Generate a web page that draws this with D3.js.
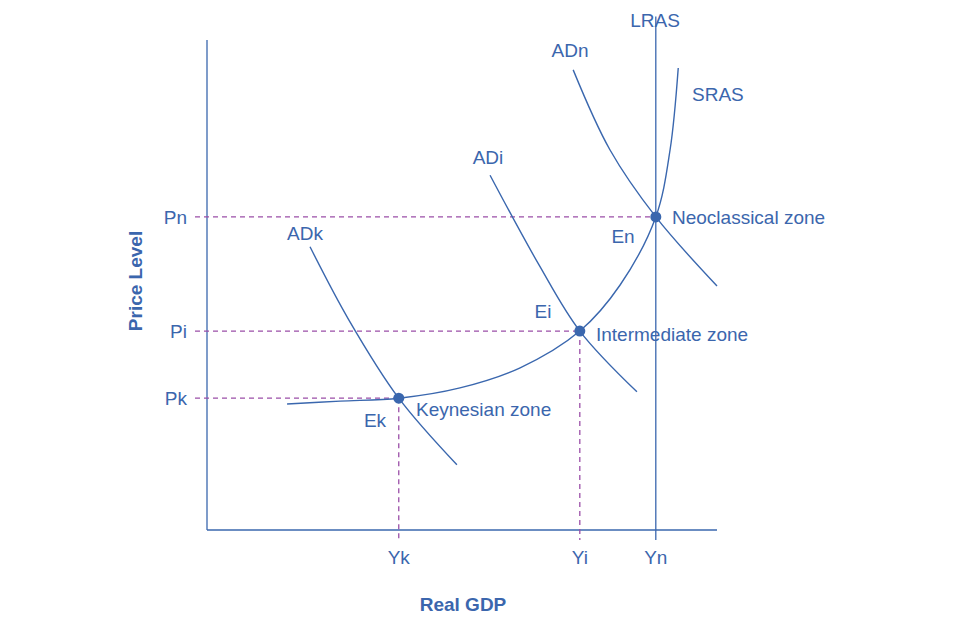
<!DOCTYPE html>
<html><head><meta charset="utf-8">
<script src="https://cdn.jsdelivr.net/npm/d3@7"></script>
<style>body{margin:0;background:#fff}text{font-family:Arial,"Liberation Sans",sans-serif;fill:#3b66ad}</style>
</head><body><svg id="c" width="976" height="628"></svg>
<script>
// curve points, in a 0..100 data space
const sras = [[15.7,25.7],[26.1,26.3],[37.6,26.9],[49.6,29.0],[61.4,33.1],[73.1,40.6],[81.0,50.0],[88.0,63.9],[90.8,77.6],[92.4,94.3]];
const adk = [[20.2,57.8],[27.8,42.9],[37.6,26.9],[49.0,13.3]];
const adi = [[55.5,72.4],[65.1,54.1],[73.1,40.6],[84.3,28.2]];
const adn = [[71.8,93.9],[79.0,77.6],[88.0,63.9],[100,49.8]];
const lrasX = 88.0;
const equilibria = [{name:"Ek", x:37.6, y:26.9, p:"Pk", q:"Yk", zone:"Keynesian zone"},
                    {name:"Ei", x:73.1, y:40.6, p:"Pi", q:"Yi", zone:"Intermediate zone"},
                    {name:"En", x:88.0, y:63.9, p:"Pn", q:"Yn", zone:"Neoclassical zone"}];

const svg = d3.select("#c");
const x = d3.scaleLinear().domain([0,100]).range([207,717]);
const y = d3.scaleLinear().domain([0,100]).range([530,40]);
const blue = "#3a67ae", purple = "#9b4fa8";

// axes
svg.append("line").attr("x1",x(0)).attr("x2",x(0)).attr("y1",y(100)).attr("y2",y(0)).attr("stroke",blue).attr("stroke-width",1.3);
svg.append("line").attr("x1",x(0)).attr("x2",x(100)).attr("y1",y(0)).attr("y2",y(0)).attr("stroke",blue).attr("stroke-width",1.3);

// dashed guides
equilibria.forEach(e => {
  svg.append("line").attr("x1",x(0)-12).attr("x2",x(e.x)).attr("y1",y(e.y)).attr("y2",y(e.y))
    .attr("stroke",purple).attr("stroke-dasharray","5,4").attr("stroke-width",1.3);
  if (e.name !== "En")
    svg.append("line").attr("x1",x(e.x)).attr("x2",x(e.x)).attr("y1",y(e.y)).attr("y2",y(0)+10)
      .attr("stroke",purple).attr("stroke-dasharray","5,4").attr("stroke-width",1.3);
  svg.append("text").attr("x",x(0)-20).attr("y",y(e.y)+7).attr("text-anchor","end").attr("font-size",19).text(e.p);
  svg.append("text").attr("x",x(e.x)).attr("y",y(0)+34).attr("text-anchor","middle").attr("font-size",19).text(e.q);
});

// LRAS
svg.append("line").attr("x1",x(lrasX)).attr("x2",x(lrasX)).attr("y1",y(0)+10).attr("y2",y(104)-4).attr("stroke",blue).attr("stroke-width",1.3);

const line = d3.line().x(d=>x(d[0])).y(d=>y(d[1])).curve(d3.curveCatmullRom);
[sras,adk,adi,adn].forEach(c => svg.append("path").attr("d",line(c)).attr("fill","none").attr("stroke",blue).attr("stroke-width",1.4));

svg.selectAll("circle.eq").data(equilibria).join("circle").attr("cx",d=>x(d.x)).attr("cy",d=>y(d.y)).attr("r",5.5).attr("fill",blue);

const labels = [["LRAS",655,27,"middle"],["ADn",570,57,"middle"],["SRAS",692,101,"start"],["ADi",488,164,"middle"],
  ["ADk",305,240,"middle"],["En",623,243,"middle"],["Neoclassical zone",672,224,"start"],["Ei",543,318,"middle"],
  ["Intermediate zone",596,341,"start"],["Ek",375,427,"middle"],["Keynesian zone",416,416,"start"]];
labels.forEach(l => svg.append("text").attr("x",l[1]).attr("y",l[2]).attr("text-anchor",l[3]).attr("font-size",19).text(l[0]));

svg.append("text").attr("x",463).attr("y",611).attr("text-anchor","middle").attr("font-size",19).attr("font-weight","bold").text("Real GDP");
svg.append("text").attr("transform","translate(142,281) rotate(-90)").attr("text-anchor","middle").attr("font-size",19).attr("font-weight","bold").text("Price Level");
</script></body></html>
